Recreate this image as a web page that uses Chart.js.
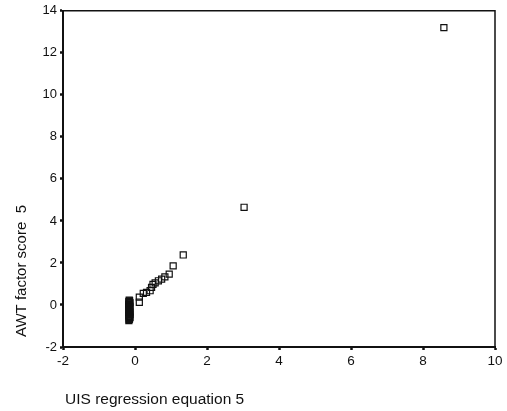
<!DOCTYPE html>
<html>
<head>
<meta charset="utf-8">
<script src="https://cdn.jsdelivr.net/npm/chart.js@4/dist/chart.umd.min.js"></script>
<style>
  body { margin: 0; background: #fff; }
  #wrap { width: 507px; height: 411px; }
</style>
</head>
<body>
<div id="wrap"><canvas id="myChart" width="507" height="411"></canvas></div>
<script>
// UIS regression equation 5 vs AWT factor score 5
let xValues = [8.58, 3.03, 1.34, 1.06, 0.95, 0.83, 0.74, 0.65, 0.56, 0.50, 0.46, 0.42, 0.32, 0.23, 0.12, 0.12,
  -0.16, -0.15, -0.17, -0.16, -0.14, -0.16, -0.15, -0.17, -0.16, -0.15, -0.16, -0.14, -0.16, -0.15, -0.17, -0.16, -0.15,
  -0.16, -0.15, -0.16, -0.14, -0.17, -0.15, -0.16, -0.14, -0.15, -0.17, -0.16, -0.15, -0.14, -0.16, -0.15, -0.16, -0.17];
let yValues = [13.2, 4.65, 2.38, 1.86, 1.47, 1.34, 1.23, 1.15, 1.05, 0.98, 0.84, 0.68, 0.60, 0.55, 0.37, 0.13,
  0.23, 0.20, 0.17, 0.14, 0.11, 0.08, 0.05, 0.02, 0.0, -0.03, -0.06, -0.09, -0.12, -0.15, -0.17, -0.20, -0.23,
  -0.26, -0.29, -0.32, -0.34, -0.37, -0.40, -0.43, -0.45, -0.48, -0.51, -0.54, -0.56, -0.59, -0.61, -0.65, -0.69, -0.74];
let xTitle = "UIS regression equation 5";
let yTitle = "AWT factor score  5";

let points = [];
for (let i = 0; i < xValues.length; i++) {
  points.push({x: xValues[i], y: yValues[i]});
}

const font = '"Liberation Sans", Arial, sans-serif';

// top/right frame lines and the two axis titles
const frame = {
  id: 'frame',
  afterDraw(chart) {
    const ctx = chart.ctx;
    const a = chart.chartArea;
    ctx.save();
    ctx.strokeStyle = '#111';
    ctx.lineWidth = 1.5;
    ctx.beginPath();
    ctx.moveTo(a.left, a.top);
    ctx.lineTo(a.right, a.top);
    ctx.lineTo(a.right, a.bottom);
    ctx.stroke();

    ctx.fillStyle = '#111';
    ctx.font = '15.5px ' + font;
    ctx.textBaseline = 'middle';
    ctx.textAlign = 'left';
    ctx.fillText(xTitle, 65, 400);

    ctx.font = '15px ' + font;
    ctx.translate(22, 337);
    ctx.rotate(-Math.PI / 2);
    ctx.fillText(yTitle, 0, 0);
    ctx.restore();
  }
};

var ctx = document.getElementById("myChart").getContext('2d');
var chart = new Chart(ctx, {
  type: 'scatter',
  data: {
    datasets: [{
      data: points,
      pointStyle: 'rect',
      pointRadius: 4.3,
      pointBorderWidth: 1.2,
      borderColor: '#111',
      backgroundColor: 'rgba(0,0,0,0)'
    }]
  },
  options: {
    responsive: false,
    animation: false,
    layout: { padding: { top: 7, right: 12, left: 0, bottom: 0 } },
    plugins: { legend: { display: false }, tooltip: { enabled: false } },
    scales: {
      x: {
        type: 'linear',
        min: -2, max: 10,
        afterFit: (s) => { s.height = 64; },
        border: { display: true, color: '#111', width: 2 },
        grid: { drawOnChartArea: false, drawTicks: true, tickLength: 3, tickWidth: 2.5, color: '#111' },
        ticks: { stepSize: 2, color: '#111', padding: 3, font: { family: font, size: 13.5 } }
      },
      y: {
        type: 'linear',
        min: -2, max: 14,
        afterFit: (s) => { s.width = 63; },
        border: { display: true, color: '#111', width: 2 },
        grid: { drawOnChartArea: false, drawTicks: true, tickLength: 3, tickWidth: 2.5, color: '#111' },
        ticks: { stepSize: 2, color: '#111', padding: 3, font: { family: font, size: 13 } }
      }
    }
  },
  plugins: [frame]
});
</script>
</body>
</html>
